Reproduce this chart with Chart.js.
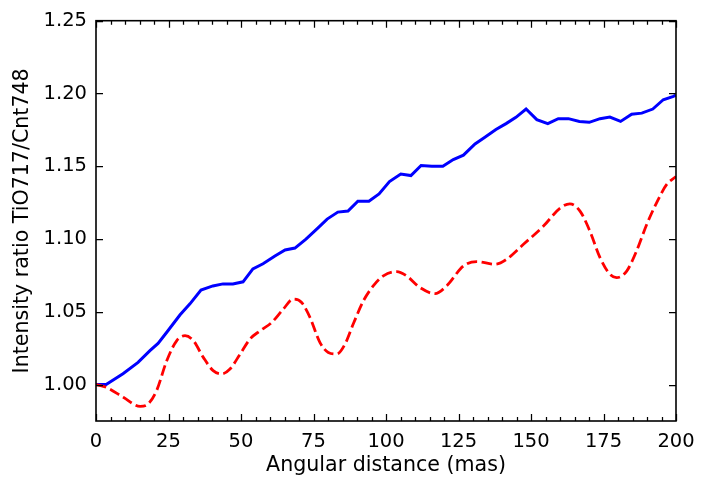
<!DOCTYPE html>
<html>
<head>
<meta charset="utf-8">
<script src="https://cdn.jsdelivr.net/npm/chart.js@4/dist/chart.umd.min.js"></script>
<style>
html,body{margin:0;padding:0;background:#fff;}
#wrap{width:716px;height:479px;position:relative;}
</style>
</head>
<body>
<div id="wrap"><canvas id="c" width="716" height="479"></canvas></div>
<script>
const xTicks = [0, 25, 50, 75, 100, 125, 150, 175, 200];
const yTicks = [1.00, 1.05, 1.10, 1.15, 1.20, 1.25];
const xMinorStep = 5;

const blueX = [0, 3.5, 9.3, 14.5, 18.6, 21.4, 24.8, 29.0, 32.4, 36.2, 40.3, 43.8, 47.2, 50.7, 54.1, 57.6, 61.7, 65.2, 68.6, 72.4, 76.2, 79.7, 83.4, 86.9, 90.3, 94.1, 97.6, 101.2, 105.1, 108.6, 112.1, 115.8, 119.6, 123.2, 126.7, 130.7, 134.1, 137.9, 141.4, 144.8, 148.3, 152.0, 155.8, 159.4, 162.9, 166.7, 170.1, 173.8, 177.2, 180.9, 184.7, 188.2, 192.0, 195.6, 199.1, 200];
const blueY = [1.000, 1.000, 1.0075, 1.0153, 1.0233, 1.0283, 1.037, 1.048, 1.0555, 1.065, 1.0678, 1.0692, 1.0692, 1.0706, 1.0795, 1.083, 1.0884, 1.0925, 1.0938, 1.100, 1.107, 1.1137, 1.1185, 1.1192, 1.126, 1.126, 1.131, 1.1395, 1.1447, 1.1436, 1.1505, 1.150, 1.150, 1.1546, 1.1576, 1.1653, 1.1699, 1.1752, 1.1793, 1.1836, 1.1893, 1.182, 1.1793, 1.1827, 1.1827, 1.1808, 1.1802, 1.1827, 1.1838, 1.1808, 1.1858, 1.1865, 1.1893, 1.1957, 1.198, 1.199];

const redX = [0, 3.7, 9.4, 15.2, 18.0, 20.9, 24.4, 27.8, 30.7, 33.6, 37.0, 40.4, 43.3, 46.2, 49.7, 53.1, 56.6, 60.6, 64.6, 68.0, 70.9, 73.8, 77.2, 80.1, 83.0, 85.9, 88.7, 92.2, 95.6, 99.1, 103.7, 107.1, 111.7, 116.9, 120.9, 126.7, 131.3, 137.6, 141.6, 147.4, 154.3, 160.1, 163.4, 166.9, 170.3, 173.8, 177.2, 179.5, 183.0, 186.4, 189.9, 193.3, 196.8, 200];
const redY = [1.000, 0.998, 0.9913, 0.9851, 0.9868, 0.9959, 1.0164, 1.0301, 1.0336, 1.0301, 1.0187, 1.0096, 1.0073, 1.0107, 1.021, 1.0313, 1.037, 1.0427, 1.0519, 1.0587, 1.0564, 1.0461, 1.029, 1.0221, 1.021, 1.0279, 1.0416, 1.0575, 1.0678, 1.0747, 1.0776, 1.0747, 1.0667, 1.0625, 1.0678, 1.0815, 1.0845, 1.0827, 1.0861, 1.0964, 1.1089, 1.1214, 1.1242, 1.1192, 1.1055, 1.0872, 1.0758, 1.0735, 1.078, 1.0918, 1.110, 1.1249, 1.1375, 1.143];

const FONT = 'DejaVu Sans';
const FS = 19.5;
const TFS = 20.6;

const frameTicks = {
  id: 'frameTicks',
  afterDatasetsDraw(chart) {
    const {ctx, chartArea: a, scales: {x, y}} = chart;
    ctx.save();
    ctx.strokeStyle = '#000';
    ctx.lineWidth = 1.25;
    ctx.beginPath();
    const major = 7, minor = 4;
    for (let v = x.min; v <= x.max + 1e-9; v += xMinorStep) {
      const px = Math.round(x.getPixelForValue(v)) + 0.5;
      const len = xTicks.includes(v) ? major : minor;
      ctx.moveTo(px, a.bottom); ctx.lineTo(px, a.bottom - len);
      ctx.moveTo(px, a.top); ctx.lineTo(px, a.top + len);
    }
    yTicks.forEach(v => {
      const py = Math.round(y.getPixelForValue(v)) + 0.5;
      ctx.moveTo(a.left, py); ctx.lineTo(a.left + major, py);
      ctx.moveTo(a.right, py); ctx.lineTo(a.right - major, py);
    });
    ctx.stroke();
    ctx.lineWidth = 1.6;
    ctx.strokeRect(a.left, a.top, a.right - a.left, a.bottom - a.top);
    ctx.restore();
  }
};

new Chart(document.getElementById('c'), {
  type: 'line',
  data: {
    datasets: [
      {
        data: redX.map((v, i) => ({x: v, y: redY[i]})),
        borderColor: '#ff0000',
        borderWidth: 2.8,
        borderDash: [10.5, 4.5],
        cubicInterpolationMode: 'monotone',
        pointRadius: 0,
        fill: false,
        order: 0
      },
      {
        data: blueX.map((v, i) => ({x: v, y: blueY[i]})),
        borderColor: '#0000ff',
        borderWidth: 3,
        tension: 0,
        pointRadius: 0,
        fill: false,
        order: 1
      }
    ]
  },
  options: {
    responsive: false,
    animation: false,
    events: [],
    layout: {padding: {left: 0, right: 40, top: 19, bottom: 0}},
    plugins: {legend: {display: false}, tooltip: {enabled: false}},
    scales: {
      x: {
        type: 'linear',
        min: 0, max: 200,
        afterFit(s) { s.height = 58; },
        afterBuildTicks(s) { s.ticks = xTicks.map(v => ({value: v})); },
        grid: {display: false, drawTicks: false},
        border: {display: false},
        ticks: {padding: 9, color: '#000', maxRotation: 0, autoSkip: false,
                font: {family: FONT, size: FS}, callback: v => String(v)},
        title: {display: true, text: 'Angular distance (mas)', color: '#000',
                font: {family: FONT, size: TFS}, padding: {top: 0, bottom: 1}}
      },
      y: {
        type: 'linear',
        min: 0.975, max: 1.25,
        afterFit(s) { s.width = 96; },
        afterBuildTicks(s) { s.ticks = yTicks.map(v => ({value: v})); },
        grid: {display: false, drawTicks: false},
        border: {display: false},
        ticks: {padding: 9, color: '#000', autoSkip: false,
                font: {family: FONT, size: FS}, callback: v => Number(v).toFixed(2)},
        title: {display: true, text: 'Intensity ratio TiO717/Cnt748', color: '#000',
                font: {family: FONT, size: TFS}, padding: {top: 10.5, bottom: 0}}
      }
    }
  },
  plugins: [frameTicks]
});
</script>
</body>
</html>
